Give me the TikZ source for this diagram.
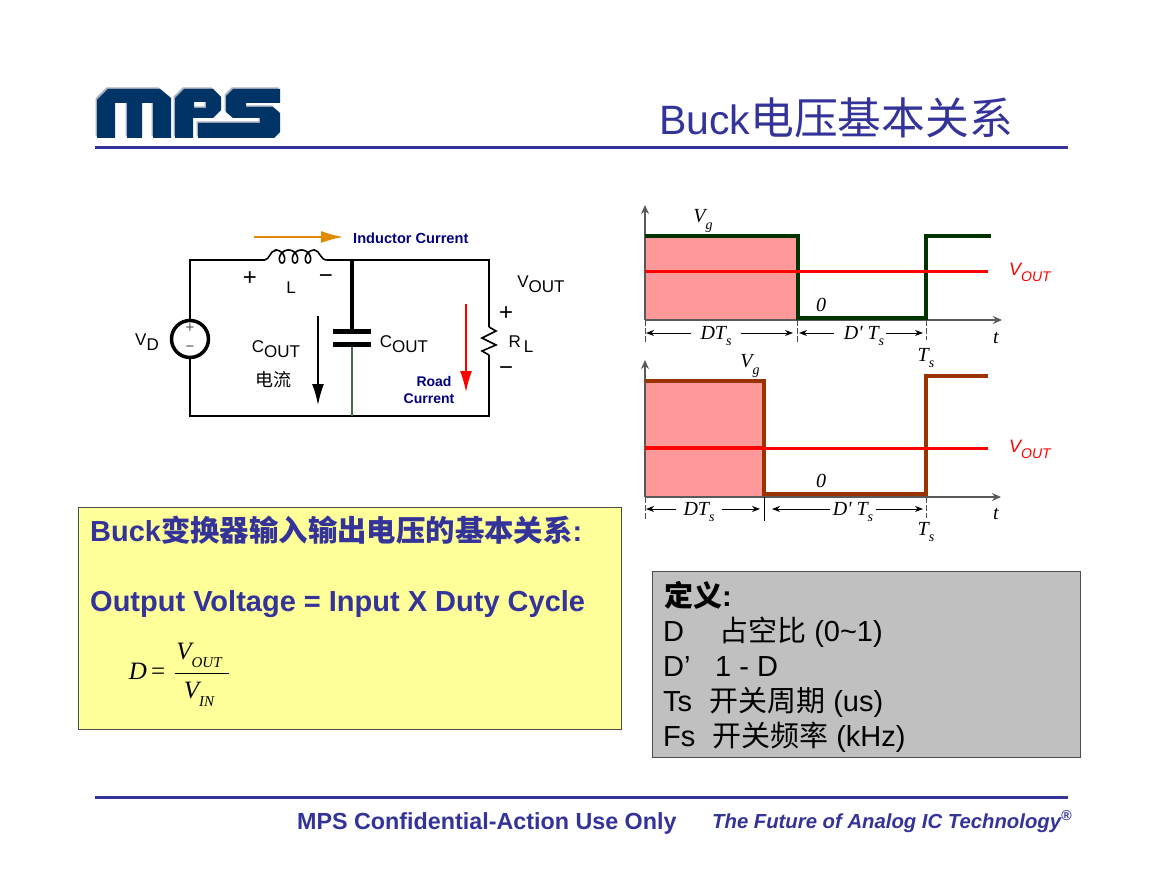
\documentclass[tikz,border=0pt]{standalone}
\usepackage{fontspec}
\setmainfont{Liberation Sans}
\newfontfamily\cjk{Noto Sans CJK SC}
\newfontfamily\tms{Liberation Serif}
\usetikzlibrary{arrows.meta}
\definecolor{mpsblue}{HTML}{333399}
\definecolor{logoblue}{HTML}{003366}
\definecolor{logogray}{HTML}{A8B0BC}
\definecolor{navytext}{HTML}{000080}
\definecolor{dkgreen}{HTML}{003300}
\definecolor{brownline}{HTML}{993300}
\definecolor{pinkfill}{HTML}{FF9999}
\definecolor{orangearrow}{HTML}{E08A00}
\definecolor{capwire}{HTML}{4A6B4A}
\definecolor{boxyellow}{HTML}{FFFF99}
\definecolor{boxgray}{HTML}{C0C0C0}
\newcommand\px[1]{\fontsize{#1}{#1}\selectfont}
\newcommand\lowtxt[3]{#1\raisebox{-.32em}{\px{#3}#2}}
\tikzstyle{rule}=[draw=mpsblue,line width=3pt]
\tikzstyle{wire}=[draw,line width=2.5pt]
\tikzstyle{plate}=[draw,line width=5pt]
\tikzstyle{source}=[circle,draw,line width=3.5pt,minimum size=37pt,inner sep=0pt]
\tikzstyle{txt}=[inner sep=0pt,font=\px{17}]
\tikzstyle{pm}=[inner sep=0pt,font=\px{24}]
\tikzstyle{navy}=[inner sep=0pt,text=navytext,font=\px{14}\bfseries]
\tikzstyle{wlabel}=[inner sep=0pt,font=\px{20}\tms\itshape]
\tikzstyle{vout}=[inner sep=0pt,text=red,font=\px{18}\itshape]
\tikzstyle{axis}=[draw=black!65,line width=1.2pt,-{Stealth[length=9pt,width=8pt]}]
\tikzstyle{tick}=[draw=black!70,line width=1pt,dash pattern=on 6pt off 2pt]
\tikzstyle{dim}=[draw,line width=1pt,-{Stealth[length=8pt,width=6pt]}]
\tikzstyle{panel}=[draw=black!70,line width=1pt,inner sep=0pt]
\tikzstyle{ybig}=[anchor=base west,inner sep=0pt,text=mpsblue,font=\px{29}\bfseries]
\tikzstyle{gline}=[anchor=base west,inner sep=0pt,font=\px{29}]
\begin{document}
\begin{tikzpicture}[x=1pt,y=-1pt]
\useasboundingbox[fill=white] (0,0) rectangle (1155,893);

    % logo
    \def\logoM{(97,138) -- (97,100) -- (108,89) -- (160,89) -- (171,98) -- (171,138) -- (153,138) -- (153,103) -- (142,103) -- (142,138) -- (127,138) -- (127,103) -- (115,103) -- (115,138) -- cycle}
    \def\logoP{(175,138) -- (175,98) -- (184,89) -- (213,89) -- (221,97) -- (221,110) -- (213,118) -- (193,118) -- (193,138) -- cycle (194,102) -- (206,102) -- (206,108) -- (194,108) -- cycle}
    \def\logoS{(233,89) -- (280,89) -- (280,103) -- (246,103) -- (246,107) -- (273,107) -- (280,113) -- (280,132) -- (274,138) -- (198,138) -- (198,123) -- (260,123) -- (260,118) -- (233,118) -- (226,112) -- (226,96) -- cycle}
    \foreach \shp in {\logoM,\logoP,\logoS} {
        \fill[logogray,even odd rule,xshift=-1.5pt,yshift=1.5pt] \shp;
        \fill[logoblue,even odd rule] \shp;
    }

    % title and rules
    \node[anchor=base west,inner sep=0pt,text=mpsblue] (title) at (659,135) {\px{41}Buck\px{43.8}\cjk 电压基本关系};
    \coordinate (ruleA) at (95,148); \coordinate (ruleB) at (1068,148);
    \coordinate (ruleC) at (95,797); \coordinate (ruleD) at (1068,797);
    \draw[rule] (ruleA) -- (ruleB);
    \draw[rule] (ruleC) -- (ruleD);

    % First we draw the circuit
    \node[source] (Vsrc) at (190,339) {};
    \node[inner sep=0pt,text=black!70,font=\px{15}] (VDp) at (190,328) {+};
    \node[inner sep=0pt,text=black!70,font=\px{15}] (VDm) at (190,349) {−};
    \foreach \pos/\name in {{(190,260)/TL}, {(265,260)/La}, {(327,260)/Lb}, {(352,260)/TM}, {(489,260)/TR}, {(190,416)/BL}, {(352,416)/BM}, {(489,416)/BR}, {(352,331)/Ca}, {(352,344)/Cb}, {(489,327)/Ra}, {(489,355)/Rb}}
        \path \pos coordinate (\name);

    \draw[wire] (Vsrc) -- (TL) -- (La);
    \draw[wire] (Lb) -- (TR) -- (Ra);
    \draw[wire] (Rb) -- (BR) -- (BL) -- (Vsrc);
    \draw[line width=1.6pt] (La) .. controls (270,259) and (270,250.5) .. (275.5,250.5) -- plot[domain=-180:900,samples=120,smooth] ({282+\x*13/360-5.5*sin(\x)},{256.5+6.5*cos(\x)}) .. controls (320,250.5) and (320,260) .. (Lb);
    \draw[line width=3.5pt] (TM) -- (Ca);
    \draw[line width=1.4pt,draw=capwire] (Cb) -- (BM);
    \draw[plate] (333,331) -- (371,331);
    \draw[plate] (333,344) -- (371,344);
    \draw[line width=1.6pt,line join=miter] (Ra) -- (496,331) -- (482,338) -- (496,345) -- (482,351) -- (Rb);

    % current arrows
    \coordinate (IndA) at (254,237); \coordinate (IndB) at (343,237);
    \draw[draw=orangearrow,line width=1.6pt,-{Latex[length=22pt,width=12pt]}] (IndA) -- (IndB);
    \coordinate (CapA) at (318,316); \coordinate (CapB) at (318,405);
    \draw[line width=1.6pt,-{Latex[length=21pt,width=12pt]}] (CapA) -- (CapB);
    \coordinate (RoadA) at (466,304); \coordinate (RoadB) at (466,392);
    \draw[draw=red,line width=1.6pt,-{Latex[length=21pt,width=12pt]}] (RoadA) -- (RoadB);

    % circuit labels
    \node[navy,anchor=west,font=\px{14.6}\bfseries] (IndT) at (353,238) {Inductor Current};
    \node[navy,align=center] (RoadT) at (429,389.5) {\hspace*{10pt}Road\\[3pt]Current};
    \node[txt] (VDt) at (147,342) {\lowtxt{V}{D}{17}};
    \node[pm] (Lp) at (250,279) {+};
    \node[txt] (Lt) at (291,288) {L};
    \node[pm] (Lm) at (326,279) {−};
    \node[txt] (VOt) at (541,284) {\lowtxt{V}{OUT}{17}};
    \node[pm] (Rp) at (506,314) {+};
    \node[txt] (RLt) at (521,344) {\lowtxt{R}{\,L}{17}};
    \node[pm] (Rm) at (506,371) {−};
    \node[txt] (CLt) at (276,349) {\lowtxt{C}{OUT}{17}};
    \node[txt,font=\px{18}\cjk] (CLz) at (273,380) {电流};
    \node[txt] (CRt) at (404,344) {\lowtxt{C}{OUT}{17}};

    % upper waveform
    \foreach \pos/\name in {{(645,320)/Ao}, {(645,205)/Ay}, {(1002,320)/Ax}, {(797,320)/Ta}, {(926,320)/Tb}, {(645,343)/Tc}, {(797,343)/Td}, {(926,340)/Te}}
        \path \pos coordinate (\name);
    \fill[pinkfill] (645,236) rectangle (797,320);
    \draw[axis] (Ao) -- (Ay);
    \draw[axis] (Ao) -- (Ax);
    \draw[tick] (Ao) -- (Tc);
    \draw[tick] (Ta) -- (Td);
    \draw[tick] (Tb) -- (Te);
    \draw[draw=dkgreen,line width=4pt] (645,236) -- (798,236) -- (798,318) -- (926,318) -- (926,236) -- (991,236);
    \draw[draw=red,line width=3pt] (645,271.5) -- (988,271.5);
    \node[wlabel] (VgA) at (703,221) {\lowtxt{V}{g}{14}};
    \node[wlabel] (ZeroA) at (821,305) {0};
    \node[wlabel,inner xsep=9pt] (DTA) at (716,336) {\lowtxt{DT}{s}{14}};
    \node[wlabel,inner xsep=2pt] (DpA) at (864,336) {\lowtxt{D' T}{s}{14}};
    \coordinate (DTAl) at (646,333); \coordinate (DTAr) at (793,333);
    \coordinate (DpAl) at (799,333); \coordinate (DpAr) at (923,333);
    \draw[dim] (DTA.west |- DTAl) -- (DTAl);
    \draw[dim] (DTA.east |- DTAr) -- (DTAr);
    \draw[dim,shorten <=8pt] (DpA.west |- DpAl) -- (DpAl);
    \draw[dim] (DpA.east |- DpAr) -- (DpAr);
    \node[wlabel] (tA) at (996,338) {t};
    \node[wlabel] (TsA) at (926,358) {\lowtxt{T}{s}{14}};
    \node[vout] (VoA) at (1030,272) {\lowtxt{V}{OUT}{14}};

    % lower waveform
    \foreach \pos/\name in {{(645,497)/Bo}, {(645,360)/By}, {(1001,497)/Bx}, {(764,497)/Tf}, {(926,497)/Tg}, {(645,519)/Th}, {(764,521)/Ti}, {(926,518)/Tj}}
        \path \pos coordinate (\name);
    \fill[pinkfill] (645,381) rectangle (764,497);
    \draw[axis] (Bo) -- (By);
    \draw[axis] (Bo) -- (Bx);
    \draw[tick] (Bo) -- (Th);
    \draw[line width=1pt] (Tf) -- (Ti);
    \draw[tick] (Tg) -- (Tj);
    \draw[draw=brownline,line width=4pt] (645,381) -- (764,381) -- (764,494) -- (926,494) -- (926,376) -- (988,376);
    \draw[draw=red,line width=4pt] (645,448) -- (764,448);
    \draw[draw=red,line width=3pt] (764,448) -- (988,448);
    \node[wlabel] (VgB) at (750,366) {\lowtxt{V}{g}{14}};
    \node[wlabel] (ZeroB) at (821,481) {0};
    \node[wlabel,inner xsep=7pt] (DTB) at (699,512) {\lowtxt{DT}{s}{14}};
    \node[wlabel,inner xsep=3pt] (DpB) at (853,512) {\lowtxt{D' T}{s}{14}};
    \coordinate (DTBl) at (646,509); \coordinate (DTBr) at (760,509);
    \coordinate (DpBl) at (772,509); \coordinate (DpBr) at (923,509);
    \draw[dim] (DTB.west |- DTBl) -- (DTBl);
    \draw[dim] (DTB.east |- DTBr) -- (DTBr);
    \draw[dim] (DpB.west |- DpBl) -- (DpBl);
    \draw[dim] (DpB.east |- DpBr) -- (DpBr);
    \node[wlabel] (tB) at (996,514) {t};
    \node[wlabel] (TsB) at (926,532) {\lowtxt{T}{s}{14}};
    \node[vout] (VoB) at (1030,449) {\lowtxt{V}{OUT}{14}};

    % yellow box
    \node[panel,fill=boxyellow,minimum width=543pt,minimum height=222pt] (ybox) at (350,618) {};
    \node[ybig] (yA) at (90,541) {Buck{\px{29.4}\cjk 变换器输入输出电压的基本关系}:};
    \node[ybig] (yB) at (90,611) {Output Voltage = Input X Duty Cycle};
    \node[inner sep=0pt,font=\px{25}\tms\itshape] (fD) at (147,671) {D\,\upshape =};
    \node[inner sep=0pt,font=\px{25}\tms\itshape] (fV) at (199,655) {\lowtxt{V}{OUT}{15}};
    \node[inner sep=0pt,font=\px{25}\tms\itshape] (fI) at (199,694) {\lowtxt{V}{IN}{15}};
    \coordinate (fbA) at (175,673); \coordinate (fbB) at (229,673);
    \draw[line width=1pt] (fbA) -- (fbB);

    % gray box
    \node[panel,fill=boxgray,minimum width=428pt,minimum height=186pt] (gbox) at (866.5,664.5) {};
    \node[gline,font=\px{29}\bfseries] (gA) at (664,606) {{\cjk 定义}:};
    \foreach \pos/\name/\label in {{(663,641)/gB/D}, {(719,641)/gC/{{\cjk 占空比} (0\textasciitilde1)}}, {(663,676)/gD/D’}, {(715,676)/gE/{1 - D}}, {(663,711)/gF/Ts}, {(709,711)/gG/{{\cjk 开关周期} (us)}}, {(663,746)/gH/Fs}, {(712,746)/gI/{{\cjk 开关频率} (kHz)}}}
        \node[gline] (\name) at \pos {\label};

    % footer
    \node[anchor=base west,inner sep=0pt,text=mpsblue,font=\px{23.3}\bfseries] (footA) at (297,829) {MPS Confidential-Action Use Only};
    \node[anchor=base west,inner sep=0pt,text=mpsblue,font=\px{20.3}\bfseries\itshape] (footB) at (712,828) {The Future of Analog IC Technology\textsuperscript{®}};
\end{tikzpicture}
\end{document}
